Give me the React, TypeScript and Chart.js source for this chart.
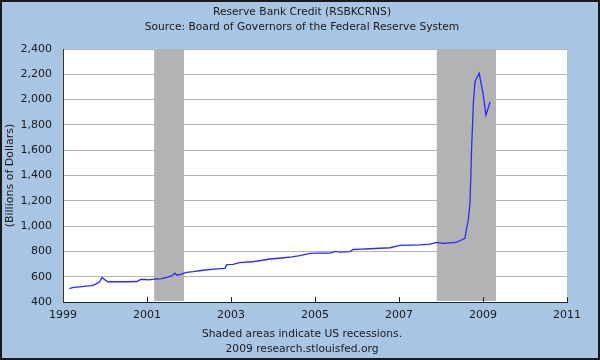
import React, { useEffect, useRef } from "react";
import { Chart, registerables } from "chart.js";

Chart.register(...registerables);

const titleLines = ["Reserve Bank Credit (RSBKCRNS)", "Source: Board of Governors of the Federal Reserve System"];
const footerLines = ["Shaded areas indicate US recessions.", "2009 research.stlouisfed.org"];
const yAxisTitle = "(Billions of Dollars)";

// decimal years
const dates = [
  1999.15, 1999.25, 1999.4, 1999.55, 1999.7, 1999.8, 1999.87, 1999.93, 2000.0, 2000.07,
  2000.3, 2000.5, 2000.76, 2000.85, 2000.95, 2001.05, 2001.2, 2001.35, 2001.5, 2001.6,
  2001.66, 2001.72, 2001.8, 2001.94, 2002.1, 2002.38, 2002.6, 2002.86, 2002.9, 2003.05,
  2003.2, 2003.5, 2003.75, 2003.93, 2004.2, 2004.45, 2004.64, 2004.88, 2005.1, 2005.36,
  2005.48, 2005.6, 2005.83, 2005.91, 2006.1, 2006.31, 2006.55, 2006.79, 2007.02, 2007.3,
  2007.5, 2007.74, 2007.9, 2008.06, 2008.21, 2008.35, 2008.45, 2008.57, 2008.61, 2008.65,
  2008.69, 2008.71, 2008.73, 2008.75, 2008.77, 2008.81, 2008.85, 2008.91, 2009.0, 2009.07,
  2009.12, 2009.17,
];
const values = [
  505, 515, 520, 525, 530, 545, 560, 593, 575, 560,
  560, 560, 562, 578, 578, 575, 582, 585, 597, 608,
  628, 612, 618, 635, 640, 653, 660, 666, 695, 698,
  712, 718, 730, 740, 748, 757, 766, 785, 786, 786,
  800, 795, 798, 815, 818, 821, 825, 829, 848, 850,
  851, 858, 872, 864, 868, 872, 884, 903, 982, 1048,
  1182, 1400, 1630, 1786, 1970, 2142, 2170, 2208, 2050, 1878,
  1930, 1983,
];

const recessionStarts = [2001.17, 2007.9];
const recessionEnds = [2001.88, 2009.31];

const xMin = 1999;
const xMax = 2011;
const xStep = 2;
const yMin = 400;
const yMax = 2400;
const yStep = 200;

const FONT = "'DejaVu Sans', Verdana, sans-serif";
const BG = "#a8c5e3";
const TEXT = "#1a1a1a";

export default function App() {
  const ref = useRef<HTMLCanvasElement | null>(null);

  useEffect(() => {
    document.body.style.margin = "0";
    const canvas = ref.current;
    if (!canvas) return;

    const framePlugin = {
      id: "frame",
      beforeDraw(chart: any) {
        const { ctx, chartArea } = chart;
        ctx.save();
        ctx.fillStyle = BG;
        ctx.fillRect(0, 0, chart.width, chart.height);
        ctx.fillStyle = "#ffffff";
        ctx.fillRect(chartArea.left, chartArea.top, chartArea.right - chartArea.left, chartArea.bottom - chartArea.top);
        ctx.restore();
      },
      beforeDatasetsDraw(chart: any) {
        const { ctx, chartArea, scales } = chart;
        ctx.save();
        ctx.fillStyle = "#b3b3b3";
        for (let i = 0; i < recessionStarts.length; i++) {
          const x1 = scales.x.getPixelForValue(recessionStarts[i]);
          const x2 = scales.x.getPixelForValue(recessionEnds[i]);
          ctx.fillRect(x1, chartArea.top, x2 - x1, chartArea.bottom - chartArea.top - 1);
        }
        ctx.restore();
      },
      afterDraw(chart: any) {
        const { ctx, chartArea, scales } = chart;
        ctx.save();
        ctx.strokeStyle = "#222";
        ctx.lineWidth = 1;
        for (let v = xMin + xStep; v <= xMax; v += xStep) {
          const x = Math.round(scales.x.getPixelForValue(v)) + 0.5;
          ctx.beginPath();
          ctx.moveTo(x, chartArea.bottom);
          ctx.lineTo(x, chartArea.bottom - 5);
          ctx.stroke();
        }
        // titles and footer
        ctx.fillStyle = TEXT;
        ctx.font = `10.7px ${FONT}`;
        ctx.textAlign = "center";
        ctx.textBaseline = "middle";
        const cx = 302;
        ctx.fillText(titleLines[0], cx, 12);
        ctx.fillText(titleLines[1], cx, 27);
        ctx.fillText(footerLines[0], cx, 334);
        ctx.fillText(footerLines[1], cx, 349);
        // outer frame
        ctx.strokeStyle = "#1a1a1a";
        ctx.lineWidth = 2;
        ctx.strokeRect(1, 1, chart.width - 2, chart.height - 2);
        ctx.restore();
      },
    };

    const chart = new Chart(canvas, {
      type: "line",
      data: {
        datasets: [
          {
            data: dates.map((d, i) => ({ x: d, y: values[i] })),
            borderColor: "#2a2aff",
            borderWidth: 1.3,
            pointRadius: 0,
            tension: 0,
            fill: false,
          },
        ],
      },
      options: {
        responsive: false,
        animation: false,
        events: [],
        layout: { padding: { left: 0, right: 33, top: 49, bottom: 35.5 } },
        plugins: {
          legend: { display: false },
          tooltip: { enabled: false },
          title: { display: false },
          subtitle: { display: false },
        },
        scales: {
          x: {
            type: "linear",
            min: xMin,
            max: xMax,
            afterFit(scale: any) {
              scale.height = 22.5;
            },
            afterBuildTicks(scale: any) {
              const t = [];
              for (let v = xMin; v <= xMax; v += xStep) t.push({ value: v });
              scale.ticks = t;
            },
            grid: { display: false, drawTicks: false },
            border: { display: true, color: "#222", width: 1 },
            ticks: {
              padding: 7,
              maxRotation: 0,
              autoSkip: false,
              color: TEXT,
              font: { family: FONT, size: 11 },
              callback: (v: any) => String(v),
            },
          },
          y: {
            type: "linear",
            min: yMin,
            max: yMax,
            afterFit(scale: any) {
              scale.width = 63;
            },
            grid: { color: "#b4b4b4", drawTicks: false, lineWidth: 1 },
            border: { display: true, color: "#333", width: 1 },
            ticks: {
              stepSize: yStep,
              padding: 11,
              color: TEXT,
              font: { family: FONT, size: 11 },
              callback: (v: any) => Number(v).toLocaleString("en-US"),
            },
            title: {
              display: true,
              text: yAxisTitle,
              color: TEXT,
              font: { family: FONT, size: 11 },
              padding: { top: 4, bottom: 0 },
            },
          },
        },
      },
      plugins: [framePlugin],
    });

    return () => chart.destroy();
  }, []);

  return <canvas ref={ref} width={600} height={360} style={{ display: "block" }} />;
}
